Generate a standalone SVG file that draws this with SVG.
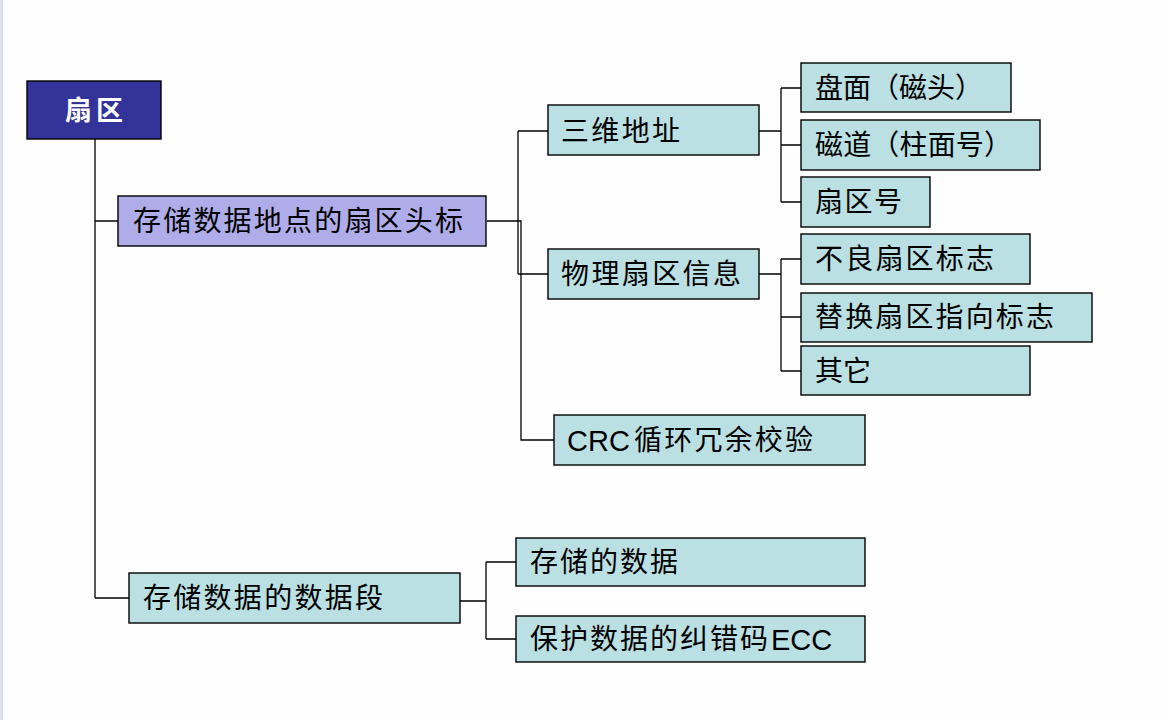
<svg xmlns="http://www.w3.org/2000/svg" width="1168" height="720" viewBox="0 0 1168 720">
<style>
.bg{fill:#fefefe}
.box{stroke:#000;stroke-width:1.4}
.teal{fill:#bbe0e3}
.lav{fill:#afade9}
.root{fill:#333399}
.t{font-family:"Liberation Sans","Noto Sans CJK SC",sans-serif;font-size:28px;fill:#000;dominant-baseline:central}
.lat{font-family:"Liberation Sans",Arial,sans-serif;font-size:29px;fill:#000;dominant-baseline:central}
.rt{font-family:"Liberation Sans","Noto Sans CJK SC",sans-serif;font-size:27px;font-weight:bold;fill:#fff;dominant-baseline:central}
.c{fill:none;stroke:#000;stroke-width:1.3}
</style>
<rect class="bg" x="0" y="0" width="1168" height="720"/>
<rect x="0" y="0" width="3" height="720" fill="#dce1e8"/>
<g id="connectors">
<path class="c" d="M95,139 V598 M95,221 H118 M95,598 H129"/>
<path class="c" d="M487,221 H521 V440 H554 M518,131 V274 M518,131 H548 M518,274 H548"/>
<path class="c" d="M759,131 H781 M781,88 V202 M781,88 H801 M781,145 H801 M781,202 H801"/>
<path class="c" d="M759,274 H781 M781,259 V371 M781,259 H801 M781,317 H801 M781,371 H801"/>
<path class="c" d="M460,601 H486 M486,562 V639 M486,562 H516 M486,639 H516"/>
</g>
<g id="n-root"><rect class="box root" x="27" y="81" width="134" height="58"/><text class="rt" x="65" y="111" textLength="58" lengthAdjust="spacing">扇区</text></g>
<g id="n-header"><rect class="box lav" x="118" y="196" width="368" height="50"/><text class="t" x="133" y="221" textLength="330" lengthAdjust="spacing">存储数据地点的扇区头标</text></g>
<g id="n-3d"><rect class="box teal" x="548" y="105" width="211" height="50"/><text class="t" x="561" y="131" textLength="119" lengthAdjust="spacing">三维地址</text></g>
<g id="n-phys"><rect class="box teal" x="548" y="249" width="211" height="50"/><text class="t" x="561" y="274" textLength="180" lengthAdjust="spacing">物理扇区信息</text></g>
<g id="n-crc"><rect class="box teal" x="554" y="415" width="311" height="50"/><text class="lat" x="567" y="441">CRC</text><text class="t" x="634" y="440" textLength="179" lengthAdjust="spacing">循环冗余校验</text></g>
<g id="n-disk"><rect class="box teal" x="801" y="63" width="210" height="49"/><text class="t" x="815" y="88" textLength="168" lengthAdjust="spacing">盘面（磁头）</text></g>
<g id="n-track"><rect class="box teal" x="801" y="120" width="239" height="50"/><text class="t" x="815" y="145" textLength="197" lengthAdjust="spacing">磁道（柱面号）</text></g>
<g id="n-secno"><rect class="box teal" x="801" y="177" width="129" height="50"/><text class="t" x="815" y="202" textLength="87" lengthAdjust="spacing">扇区号</text></g>
<g id="n-bad"><rect class="box teal" x="801" y="234" width="229" height="50"/><text class="t" x="815" y="259" textLength="179" lengthAdjust="spacing">不良扇区标志</text></g>
<g id="n-repl"><rect class="box teal" x="801" y="293" width="291" height="49"/><text class="t" x="815" y="317" textLength="239" lengthAdjust="spacing">替换扇区指向标志</text></g>
<g id="n-other"><rect class="box teal" x="801" y="346" width="229" height="49"/><text class="t" x="815" y="371" textLength="56" lengthAdjust="spacing">其它</text></g>
<g id="n-data"><rect class="box teal" x="129" y="573" width="331" height="50"/><text class="t" x="143" y="598" textLength="240" lengthAdjust="spacing">存储数据的数据段</text></g>
<g id="n-stored"><rect class="box teal" x="516" y="538" width="349" height="48"/><text class="t" x="530" y="562" textLength="148" lengthAdjust="spacing">存储的数据</text></g>
<g id="n-ecc"><rect class="box teal" x="516" y="616" width="349" height="46"/><text class="t" x="530" y="639" textLength="238" lengthAdjust="spacing">保护数据的纠错码</text><text class="lat" x="771" y="640">ECC</text></g>
</svg>
